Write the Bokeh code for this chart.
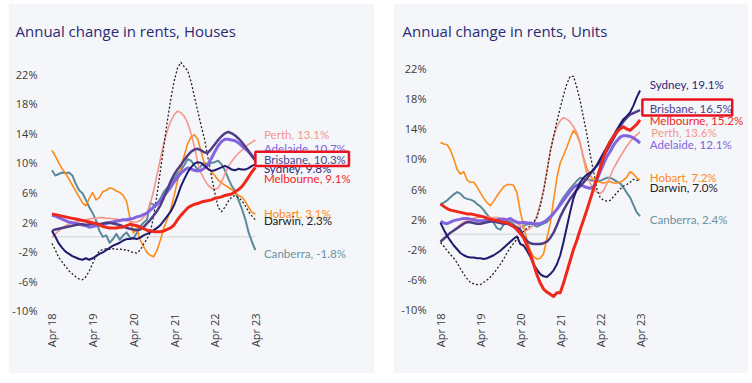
import math
from bokeh.plotting import figure
from bokeh.layouts import row, column
from bokeh.models import FixedTicker, PrintfTickFormatter, Label, BoxAnnotation, Spacer
from bokeh.embed import file_html
from bokeh.resources import INLINE

# ---------------- data ----------------
months = list(range(61))  # monthly, Apr 18 .. Apr 23
tick_months = [0, 12, 24, 36, 48, 60]
tick_labels = ["Apr 18", "Apr 19", "Apr 20", "Apr 21", "Apr 22", "Apr 23"]
y_ticks = [-10, -6, -2, 2, 6, 10, 14, 18, 22]

cities = ["Canberra", "Hobart", "Perth", "Darwin", "Adelaide", "Brisbane", "Sydney", "Melbourne"]

# Houses (annual change, %)
h_sydney = [0.8,0.0,-0.9,-1.5,-2.0,-2.3,-2.6,-2.8,-3.0,-3.1, -2.9,-3.1,-2.9,-2.6,-2.3,-2.1,-1.8,-1.5,-1.2,-1.0,
            -0.8,-0.5,-0.3,-0.3,-0.2,-0.3,-0.1,0.2,0.4,0.6, 0.9,1.2,1.6,2.2,2.8,3.4,4.3,5.5,6.8,7.8,
            8.7,9.4,9.9,10.1,10.0,9.6,9.2,8.9,9.0,9.2, 9.4,9.6,9.4,9.1,9.0,9.2,9.1,9.1,9.3,9.6,9.8]
h_melbourne = [3.1,3.0,2.9,2.8,2.7,2.6,2.5,2.4,2.3,2.2, 2.1,2.0,1.9,1.8,1.6,1.4,1.3,1.2,1.2,1.2,
               1.3,1.3,1.5,1.7,1.6,1.5,1.3,1.1,0.9,0.8, 0.7,0.7,0.7,0.8,1.0,1.2,1.6,2.3,2.9,3.4,
               3.9,4.2,4.4,4.5,4.7,4.8,4.9,5.0,5.2,5.3, 5.4,5.6,5.7,5.8,6.1,6.4,6.8,7.4,8.1,8.8,9.4]
h_brisbane = [0.8,1.0,1.1,1.2,1.3,1.4,1.5,1.6,1.7,1.7, 1.6,1.7,1.8,1.8,1.7,1.8,1.9,1.9,1.8,1.7,
              1.6,1.4,1.2,1.1,1.0,0.9,1.0,1.3,1.8,2.3, 2.9,3.5,4.3,5.3,6.4,7.5,8.4,9.1,9.7,10.4,
              11.0,11.5,11.8,11.9,11.7,11.4,11.4,11.9,12.5,13.1, 13.6,14.0,14.2,14.0,13.7,13.3,12.8,12.2,11.6,10.9,10.3]
h_adelaide = [2.9,2.8,2.6,2.4,2.2,2.0,1.9,1.8,1.7,1.6, 1.5,1.3,1.4,1.5,1.6,1.7,1.8,1.9,2.0,2.1,
              2.2,2.3,2.3,2.4,2.5,2.7,2.8,3.0,3.2,3.6, 4.0,4.4,4.9,5.5,6.1,6.7,7.4,8.0,8.6,9.0,
              9.3,9.2,9.0,8.9,9.0,9.3,9.8,10.6,11.5,12.3, 12.9,13.2,13.2,13.1,13.0,12.7,12.3,11.9,11.5,11.0,10.7]
h_perth = [-0.1,0.4,0.8,1.2,1.5,1.7,1.9,2.0,2.1,2.2, 2.3,2.4,2.5,2.5,2.6,2.6,2.5,2.5,2.4,2.4,
           2.3,2.2,2.2,2.1,2.0,2.0,2.2,2.6,3.3,4.5, 6.3,8.4,10.6,12.7,14.3,15.6,16.5,17.0,16.8,16.3,
           15.4,14.0,12.2,10.0,8.6,7.7,7.0,6.6,6.4,6.6, 7.4,8.5,9.5,10.2,10.8,11.3,11.7,12.2,12.5,12.8,13.1]
h_hobart = [11.7,10.9,10.0,9.2,8.6,7.8,7.0,6.2,5.4,4.6, 4.2,5.2,6.0,5.0,5.3,6.1,6.3,6.6,6.5,6.2,
            6.0,5.6,4.8,2.5,0.5,1.2,-0.4,-1.3,-2.1,-2.5, -2.7,-1.8,-0.4,1.2,2.4,3.7,5.5,7.5,9.3,11.0,
            12.6,13.5,13.8,13.2,11.5,9.8,9.2,8.8,8.3,7.7, 7.3,7.0,6.7,6.4,6.0,5.6,5.4,4.8,4.0,3.3,3.1]
h_darwin = [-0.9,-1.8,-2.8,-3.4,-4.0,-4.6,-5.0,-5.4,-5.7,-5.8, -5.4,-4.6,-3.6,-2.6,-1.9,-1.7,-1.6,-1.7,-1.6,-1.7,
            -1.6,-1.8,-1.7,-2.0,-2.1,-2.2,-1.8,-1.0,-0.3,0.6, 2.8,5.8,9.0,12.3,15.6,18.5,21.0,22.8,23.6,23.0,
            22.5,21.0,19.0,17.0,15.0,13.2,10.7,8.3,6.0,4.0, 3.4,4.0,4.8,5.4,5.6,5.3,4.9,4.2,3.4,2.8,2.3]
h_canberra = [9.0,8.3,8.5,8.7,8.6,8.7,8.3,7.2,6.3,5.9, 5.0,4.0,3.2,2.2,0.8,0.0,0.2,-0.8,-0.3,0.4,
              -0.4,0.2,0.6,-0.1,-0.2,0.5,1.4,1.9,2.3,4.6, 4.3,4.5,5.2,6.1,6.6,7.1,7.8,8.5,9.0,9.7,
              10.5,10.3,9.7,9.1,9.6,10.0,9.7,10.0,10.1,10.3, 9.8,9.0,7.9,6.9,6.2,5.0,3.8,2.4,0.6,-0.7,-1.8]

# Units (annual change, %)
u_sydney = [1.5,0.6,-0.2,-0.9,-1.5,-2.0,-2.5,-2.8,-3.0,-3.1, -3.1,-3.2,-3.2,-3.3,-3.2,-3.0,-2.8,-2.5,-2.2,-1.8,
            -1.4,-1.0,-0.6,-0.3,-1.3,-1.5,-2.2,-3.0,-4.0,-4.7, -5.3,-5.6,-5.7,-5.3,-4.8,-4.0,-2.8,-1.0,1.0,3.0,
            4.8,6.0,6.9,7.5,7.9,8.2,8.5,9.2,10.0,10.8, 11.6,12.4,13.1,13.9,14.6,15.3,15.7,16.2,17.1,18.2,19.1]
u_melbourne = [4.0,3.7,3.4,3.2,3.1,3.0,2.9,2.8,2.7,2.7, 2.6,2.5,2.4,2.3,2.1,2.0,1.9,1.8,1.7,1.6,
               1.5,1.3,1.0,0.6,0.1,-0.5,-1.5,-2.6,-4.0,-5.4, -6.5,-7.3,-7.7,-8.0,-8.3,-7.8,-7.8,-6.5,-5.0,-3.5,
               -2.0,-0.8,0.6,1.9,3.2,4.6,6.0,7.4,8.8,10.2, 11.4,12.3,13.0,13.6,14.0,14.3,14.0,13.8,14.2,14.6,15.2]
u_brisbane = [-1.0,-0.6,-0.2,0.2,0.5,0.8,1.1,1.4,1.6,1.6, 1.5,1.4,1.4,1.5,1.6,1.7,1.7,1.6,1.5,1.4,
              1.4,1.2,1.1,0.9,0.6,-0.3,-0.9,-1.2,-1.3,-1.3, -1.3,-1.2,-1.0,-0.5,0.2,1.2,2.3,3.2,4.0,4.7,
              5.3,5.9,6.4,6.9,7.4,8.0,8.6,9.1,9.6,10.3, 11.1,11.9,12.7,13.5,14.3,15.0,15.5,15.9,16.1,16.3,16.5]
u_adelaide = [1.7,1.5,1.4,1.6,1.8,1.9,2.0,2.1,2.1,2.0, 1.9,1.8,1.8,1.8,1.9,1.9,1.8,1.9,2.0,2.0,
              1.9,2.1,1.8,1.6,1.5,1.6,1.5,1.5,1.4,1.4, 1.4,1.6,1.9,2.3,2.8,3.3,3.9,4.5,5.1,5.7,
              6.2,6.5,6.6,6.4,6.2,6.1,6.3,7.2,8.3,9.3, 10.3,11.0,11.8,12.4,12.9,13.1,13.1,13.0,12.8,12.5,12.1]
u_perth = [-1.0,-0.6,-0.2,0.2,0.5,0.9,1.3,1.6,1.8,2.0, 2.1,2.2,2.3,2.3,2.3,2.2,2.2,2.2,2.1,2.1,
           2.0,1.9,1.7,1.4,1.1,0.7,0.5,0.8,1.3,2.5, 4.0,6.0,8.5,11.0,13.0,14.3,15.1,15.5,15.3,14.9,
           14.3,13.5,12.2,10.0,8.0,6.8,6.0,5.6,5.4,5.8, 6.7,7.7,8.7,9.5,10.3,11.0,11.7,12.3,12.8,13.2,13.6]
u_hobart = [12.2,12.0,11.9,11.2,10.0,8.6,8.0,8.3,7.2,6.9, 6.9,6.3,5.5,4.8,4.2,3.8,4.4,5.1,5.7,6.3,
            6.6,6.6,6.5,5.5,3.0,1.0,-0.8,-2.2,-3.0,-3.3, -3.2,-2.6,-0.5,1.4,4.5,7.5,9.5,10.5,11.6,12.8,
            13.8,13.2,12.0,10.2,8.8,7.8,7.2,7.0,6.9,6.8, 6.9,7.0,6.8,6.8,6.9,7.2,7.6,8.3,8.0,7.5,7.2]
u_darwin = [-1.1,-1.6,-2.2,-2.7,-3.2,-3.8,-4.6,-5.3,-5.9,-6.4, -6.6,-6.7,-6.7,-6.4,-6.1,-5.7,-5.2,-4.6,-4.0,-3.3,
            -2.5,-1.8,-1.2,-0.7,-0.1,0.4,0.8,1.1,1.6,2.2, 3.8,5.7,8.2,11.0,13.0,15.0,16.8,18.5,20.0,21.0,
            21.0,19.5,17.7,15.5,13.3,10.6,8.4,6.0,4.9,4.5, 4.4,4.5,5.0,5.5,6.0,6.4,6.6,6.9,7.3,7.2,7.0]
u_canberra = [4.0,4.2,4.5,4.9,5.3,5.6,5.4,4.9,4.7,4.6, 4.4,4.0,3.7,3.2,2.6,2.1,1.5,0.8,0.6,1.3,
              1.6,1.7,1.3,0.8,0.9,1.1,1.3,1.4,1.2,1.0, 1.2,1.4,1.6,2.1,2.7,3.4,4.2,4.9,5.5,6.1,
              6.6,7.1,7.5,7.4,7.3,7.2,7.1,7.1,7.1,7.3, 7.5,7.5,7.3,7.0,6.8,6.2,5.5,4.9,3.9,2.9,2.4]

# latest values shown in the end labels
houses_latest = {"Perth": 13.1, "Adelaide": 10.7, "Brisbane": 10.3, "Sydney": 9.8,
                 "Melbourne": 9.1, "Hobart": 3.1, "Darwin": 2.3, "Canberra": -1.8}
units_latest = {"Sydney": 19.1, "Brisbane": 16.5, "Melbourne": 15.2, "Perth": 13.6,
                "Adelaide": 12.1, "Hobart": 7.2, "Darwin": 7.0, "Canberra": 2.4}

houses = {"Sydney": h_sydney, "Melbourne": h_melbourne, "Brisbane": h_brisbane, "Adelaide": h_adelaide,
          "Perth": h_perth, "Hobart": h_hobart, "Darwin": h_darwin, "Canberra": h_canberra}
units = {"Sydney": u_sydney, "Melbourne": u_melbourne, "Brisbane": u_brisbane, "Adelaide": u_adelaide,
         "Perth": u_perth, "Hobart": u_hobart, "Darwin": u_darwin, "Canberra": u_canberra}

# ---------------- styles ----------------
BG = "#f4f6f9"
style = {
    "Sydney":    dict(color="#1f1a6e", width=2.0, dash="solid"),
    "Melbourne": dict(color="#f0281a", width=3.0, dash="solid"),
    "Brisbane":  dict(color="#4e3d84", width=2.5, dash="solid"),
    "Adelaide":  dict(color="#8364e0", width=3.0, dash="solid"),
    "Perth":     dict(color="#f4978d", width=1.6, dash="solid"),
    "Hobart":    dict(color="#ff8a17", width=1.6, dash="solid"),
    "Darwin":    dict(color="#222222", width=1.3, dash="2 2"),
    "Canberra":  dict(color="#5a8a9a", width=2.0, dash="solid"),
}
label_color = {"Sydney": "#2a2676", "Melbourne": "#f0281a", "Brisbane": "#4e4590", "Adelaide": "#8364e0",
               "Perth": "#f4978d", "Hobart": "#ff8a17", "Darwin": "#222222", "Canberra": "#6a93a3"}

PANEL_H = 370
LABEL_FONT_SIZE = "11.6px"


def make_panel(title, series, latest, width, x_rng, y_rng, min_left, label_x, label_y,
               title_offset, box, perth_shift=0.0, boxed="Brisbane"):
    p = figure(width=width, height=PANEL_H, output_backend="svg", toolbar_location=None,
               x_range=x_rng, y_range=y_rng, min_border_left=min_left, min_border_right=4,
               min_border_top=52, min_border_bottom=62)
    p.background_fill_color = BG
    p.border_fill_color = BG
    p.outline_line_color = None
    p.xgrid.visible = False
    p.ygrid.visible = False

    p.title.text = title
    p.title.align = "left"
    p.title.offset = title_offset
    p.title.standoff = 31
    p.title.text_font = "Open Sans"
    p.title.text_font_size = "15px"
    p.title.text_font_style = "normal"
    p.title.text_color = "#2b2a72"

    p.xaxis.ticker = FixedTicker(ticks=tick_months)
    p.xaxis.major_label_overrides = {m: t for m, t in zip(tick_months, tick_labels)}
    p.xaxis.major_label_orientation = math.pi / 2
    p.yaxis.ticker = FixedTicker(ticks=y_ticks)
    p.yaxis.formatter = PrintfTickFormatter(format="%d%%")
    for ax in (p.xaxis, p.yaxis):
        ax.axis_line_color = None
        ax.major_tick_line_color = None
        ax.minor_tick_line_color = None
        ax.major_tick_out = 0
        ax.major_tick_in = 0
        ax.minor_tick_out = 0
        ax.minor_tick_in = 0
        ax.major_label_text_font = "Open Sans"
        ax.major_label_text_font_size = "11px"
        ax.major_label_text_color = "#3a3a3a"
    p.xaxis.major_label_standoff = 2
    p.yaxis.major_label_standoff = 7

    p.line(x=[months[0], months[-1]], y=[0, 0], line_color="#dcdde0", line_width=1.5)

    for c in cities:
        s = style[c]
        p.line(x=months, y=series[c], line_color=s["color"], line_width=s["width"],
               line_dash=s["dash"], line_join="round")

    for c in [c for c in latest if c != boxed]:
        p.add_layout(Label(x=label_x + (perth_shift if c == "Perth" else 0), y=label_y[c],
                           text=f"{c}, {latest[c]:.1f}%", text_font="Lato",
                           text_font_size=LABEL_FONT_SIZE,
                           text_color=label_color[c], text_baseline="middle"))
    p.add_layout(BoxAnnotation(left=box[0], right=box[1], bottom=box[2], top=box[3],
                               fill_color=BG, fill_alpha=1.0, line_color="#e8131f",
                               line_alpha=1.0, line_width=2.5))
    p.add_layout(Label(x=label_x, y=label_y[boxed], text=f"{boxed}, {latest[boxed]:.1f}%",
                       text_font="Lato", text_font_size=LABEL_FONT_SIZE, text_color=label_color[boxed],
                       text_baseline="middle"))
    return p


left = make_panel(
    "Annual change in rents, Houses", houses, houses_latest, 366,
    (-2.21, 93.95), (-10.1, 24.39), 36, 62.5,
    {"Perth": 13.9, "Adelaide": 12.0, "Brisbane": 10.4, "Sydney": 9.3, "Melbourne": 7.9,
     "Hobart": 3.2, "Darwin": 2.15, "Canberra": -2.2},
    -29, (60.0, 87.6, 9.57, 11.5))

right = make_panel(
    "Annual change in rents, Units", units, units_latest, 355,
    (-2.1, 91.4), (-10.28, 23.63), 40, 62.9,
    {"Sydney": 19.9, "Brisbane": 16.65, "Melbourne": 15.1, "Perth": 13.5, "Adelaide": 11.9,
     "Hobart": 7.5, "Darwin": 6.2, "Canberra": 1.9},
    -31, (60.7, 87.7, 15.77, 17.9), perth_shift=0.5)

layout = column(Spacer(width=10, height=3),
                row(Spacer(width=8, height=10), left, Spacer(width=19, height=10), right,
                    spacing=0),
                spacing=0)
open("out.html", "w").write(file_html(layout, INLINE))
